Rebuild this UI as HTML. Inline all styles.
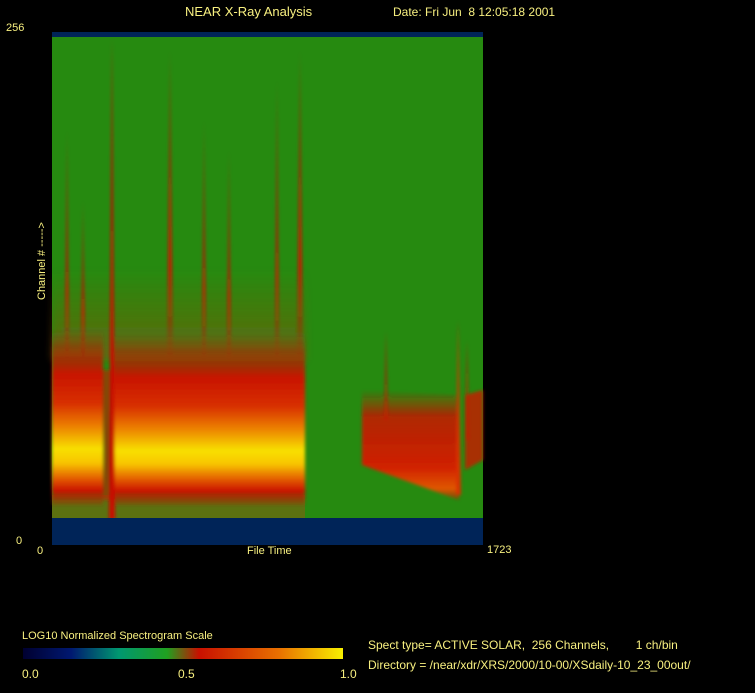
<!DOCTYPE html>
<html><head><meta charset="utf-8"><style>
html,body{margin:0;padding:0;background:#000;}
body{width:755px;height:693px;position:relative;overflow:hidden;font-family:"Liberation Sans",sans-serif;color:#ffff80;}
.t{position:absolute;font-size:12px;white-space:nowrap;color:#f8f080;}
</style></head><body>
<svg width="755" height="693" style="position:absolute;left:0;top:0">
<defs>
<linearGradient id="ga" x1="0" y1="0" x2="0" y2="1">
<stop offset="0" stop-color="#a03000" stop-opacity="0"/>
<stop offset="0.12" stop-color="#b02400" stop-opacity="0.6"/>
<stop offset="0.25" stop-color="#c81400"/>
<stop offset="0.42" stop-color="#d83000"/>
<stop offset="0.55" stop-color="#ec8000"/>
<stop offset="0.68" stop-color="#f8e000"/>
<stop offset="0.76" stop-color="#f8c400"/>
<stop offset="0.86" stop-color="#e05000"/>
<stop offset="0.92" stop-color="#c81000"/>
<stop offset="1" stop-color="#a03000" stop-opacity="0.3"/>
</linearGradient>
<linearGradient id="gc" x1="0" y1="0" x2="0" y2="1">
<stop offset="0" stop-color="#c81800" stop-opacity="0"/>
<stop offset="0.25" stop-color="#c81400" stop-opacity="0.85"/>
<stop offset="0.7" stop-color="#d02000"/>
<stop offset="0.9" stop-color="#e05800"/>
<stop offset="1" stop-color="#c01800" stop-opacity="0.4"/>
</linearGradient>
<linearGradient id="sp" x1="0" y1="0" x2="0" y2="1">
<stop offset="0" stop-color="#c01000" stop-opacity="0.4"/>
<stop offset="0.7" stop-color="#d01000" stop-opacity="0.9"/>
<stop offset="1" stop-color="#d01000" stop-opacity="0"/>
</linearGradient>
<linearGradient id="hz" x1="0" y1="0" x2="0" y2="1">
<stop offset="0" stop-color="#8a5010" stop-opacity="0"/>
<stop offset="1" stop-color="#8a5010" stop-opacity="0.6"/>
</linearGradient>
<linearGradient id="cb" x1="0" y1="0" x2="1" y2="0">
<stop offset="0" stop-color="#000030"/>
<stop offset="0.15" stop-color="#001870"/>
<stop offset="0.3" stop-color="#009870"/>
<stop offset="0.45" stop-color="#20a020"/>
<stop offset="0.55" stop-color="#c81000"/>
<stop offset="0.8" stop-color="#e87000"/>
<stop offset="1" stop-color="#f8f000"/>
</linearGradient>
<filter id="bl"><feGaussianBlur stdDeviation="1.5"/></filter>
<filter id="bl2"><feGaussianBlur stdDeviation="4"/></filter>
</defs>
<rect x="52" y="32" width="431" height="5" fill="#002458"/>
<rect x="52" y="37" width="431" height="482" fill="#268a10"/>
<rect x="52" y="270" width="253" height="90" fill="url(#hz)" filter="url(#bl2)"/>
<rect x="52" y="495" width="253" height="23" fill="#6a6a10" opacity="0.8"/>
<g filter="url(#bl)">
<rect x="52" y="330" width="51" height="175" fill="url(#ga)"/>
<rect x="103" y="370" width="7" height="130" fill="#c02000" opacity="0.6"/>
<rect x="110" y="335" width="195" height="170" fill="url(#ga)"/>
<polygon points="362,390 459,395 459,500 362,465" fill="url(#gc)"/>
<polygon points="465,395 483,390 483,460 465,470" fill="#c81800" opacity="0.8"/>
<polygon points="65,360 67,130 69,360" fill="url(#sp)"/>
<polygon points="81,360 83,200 85,360" fill="url(#sp)"/>
<polygon points="109,520 112,37 115,520" fill="#c81000"/>
<polygon points="167,360 170,50 173,360" fill="url(#sp)"/>
<polygon points="202,360 204,120 206,360" fill="url(#sp)"/>
<polygon points="227,360 229,150 231,360" fill="url(#sp)"/>
<polygon points="275,360 277,80 279,360" fill="url(#sp)"/>
<polygon points="297,360 300,50 303,360" fill="url(#sp)"/>
<polygon points="384,420 386,330 388,420" fill="#c81800" opacity="0.6"/>
<polygon points="456,495 458,320 461,495" fill="#d83000"/>
<polygon points="465,440 467,340 469,440" fill="#c81800" opacity="0.7"/>
</g>
<rect x="52" y="518" width="431" height="27" fill="#002458"/>
<rect x="23" y="648" width="320" height="11" fill="url(#cb)"/>
</svg>
<div class="t" style="left:185px;top:4px;font-size:13px">NEAR X-Ray Analysis</div>
<div class="t" style="left:393px;top:5px">Date: Fri Jun &nbsp;8 12:05:18 2001</div>
<div class="t" style="left:6px;top:22px;font-size:11px">256</div>
<div class="t" style="left:16px;top:535px;font-size:11px">0</div>
<div class="t" style="left:37px;top:545px;font-size:11px">0</div>
<div class="t" style="left:247px;top:545px;font-size:11px">File Time</div>
<div class="t" style="left:487px;top:544px;font-size:11px">1723</div>
<div class="t" style="left:36px;top:300px;font-size:11px;transform:rotate(-90deg);transform-origin:0 0">Channel # -----&gt;</div>
<div class="t" style="left:22px;top:630px;font-size:11px">LOG10 Normalized Spectrogram Scale</div>
<div class="t" style="left:22px;top:667px">0.0</div>
<div class="t" style="left:178px;top:667px">0.5</div>
<div class="t" style="left:340px;top:667px">1.0</div>
<div class="t" style="left:368px;top:638px">Spect type= ACTIVE SOLAR, &nbsp;256 Channels, &nbsp;&nbsp;&nbsp;&nbsp;&nbsp;&nbsp;&nbsp;1 ch/bin</div>
<div class="t" style="left:368px;top:658px">Directory = /near/xdr/XRS/2000/10-00/XSdaily-10_23_00out/</div>
</body></html>
